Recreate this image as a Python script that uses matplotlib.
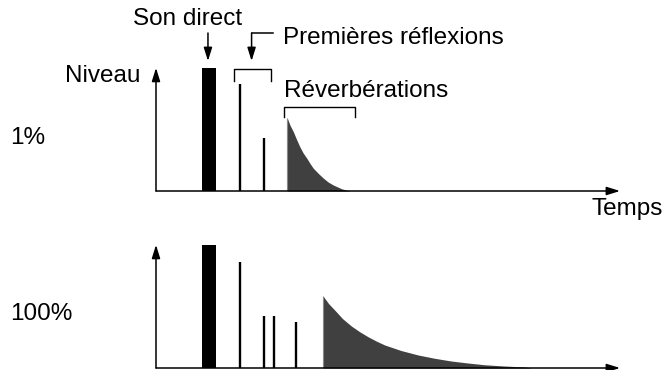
import matplotlib
matplotlib.use('Agg')
import matplotlib.pyplot as plt

plt.rcParams['font.family'] = ['Liberation Sans', 'DejaVu Sans']

# time axis in arbitrary units (0..100), level in % of arrow height (0..100)
direct_t = 11.4
direct_width = 3.0
direct_level = 98.5

# top panel: 1%
refl_t_1 = [18.2, 23.3]
refl_level_1 = [85.4, 42.6]
rev_t_1 = [28.3, 28.9, 29.6, 30.3, 31.0, 31.7, 32.5, 33.2, 33.9, 35.0, 36.1, 37.1,
           38.2, 40.0, 41.8]
rev_level_1 = [58.2, 52.5, 47.4, 41.2, 35.4, 30.5, 26.2, 22.0, 18.2, 14.0, 10.2, 7.2,
               4.8, 1.8, 0.0]

# bottom panel: 100%
refl_t_2 = [18.2, 23.3, 25.5, 30.2]
refl_level_2 = [85.0, 41.8, 41.8, 37.0]
rev_t_2 = [36.0, 37.2, 38.5, 40.2, 42.1, 43.9, 45.7, 47.5, 49.3, 52.8, 56.5, 60.0,
           63.6, 67.2, 70.8, 75.0, 79.5, 81.0]
rev_level_2 = [57.6, 51.5, 46.4, 39.5, 33.6, 29.0, 25.0, 21.5, 18.4, 14.0, 10.4, 7.8,
               5.6, 4.0, 2.6, 1.6, 0.8, 0.0]

labels = ['1%', '100%']
rev_color = '#404040'
fs = 17.5

fig = plt.figure(figsize=(6.64, 3.70), dpi=100)
ax1 = fig.add_axes([156 / 664, (370 - 191) / 370, 464 / 664, 125 / 370])
ax2 = fig.add_axes([156 / 664, (370 - 368) / 370, 464 / 664, 125 / 370])

panels = [(ax1, refl_t_1, refl_level_1, rev_t_1, rev_level_1),
          (ax2, refl_t_2, refl_level_2, rev_t_2, rev_level_2)]

arrow = dict(arrowstyle='-|>,head_length=0.8,head_width=0.25',
             color='black', lw=1.1, shrinkA=0, shrinkB=0)

for (ax, rt, rl, vt, vl), lab in zip(panels, labels):
    ax.set_xlim(0, 100)
    ax.set_ylim(0, 100)
    ax.axis('off')
    ax.bar(direct_t, direct_level, width=direct_width, color='black', linewidth=0)
    ax.vlines(rt, 0, rl, color='black', linewidth=1.7)
    ax.fill_between(vt, 0, vl, color=rev_color, linewidth=0)
    ax.vlines(vt[0], 0, vl[0], color='#888888', linewidth=0.8)
    # axes arrows
    ax.annotate('', xy=(1.0, 0), xytext=(0, 0), xycoords='axes fraction',
                arrowprops=arrow)
    ax.annotate('', xy=(0, 0.985), xytext=(0, 0), xycoords='axes fraction',
                arrowprops=arrow)
    ax.text(-31.5, 38, lab, fontsize=fs, ha='left', va='baseline')

# labels on top panel
ax1.text(-3.4, 87.4, 'Niveau', fontsize=fs, ha='right', va='baseline')
ax1.text(109.3, -19.2, 'Temps', fontsize=fs, ha='right', va='baseline')

ax1.text(6.9, 132.8, 'Son direct', fontsize=fs, ha='center', va='baseline')
ax1.annotate('', xy=(11.2, 104), xytext=(11.2, 126.4), annotation_clip=False,
             arrowprops=arrow)

ax1.plot([25.2, 20.6], [126.4, 126.4], color='black', lw=1.1, clip_on=False)
ax1.annotate('', xy=(20.6, 104), xytext=(20.6, 126.4), annotation_clip=False,
             arrowprops=arrow)
ax1.text(27.4, 118, 'Premières réflexions', fontsize=fs, ha='left', va='baseline')

# brackets
ax1.plot([16.9, 16.9, 24.8, 24.8], [88, 97.4, 97.4, 88], color='black', lw=1.0,
         clip_on=False)
ax1.plot([27.6, 27.6, 42.9, 42.9], [59.4, 67.4, 67.4, 59.4], color='black', lw=1.0,
         clip_on=False)
ax1.text(27.6, 75.4, 'Réverbérations', fontsize=fs, ha='left', va='baseline')

fig.savefig('out.png', dpi=100)
